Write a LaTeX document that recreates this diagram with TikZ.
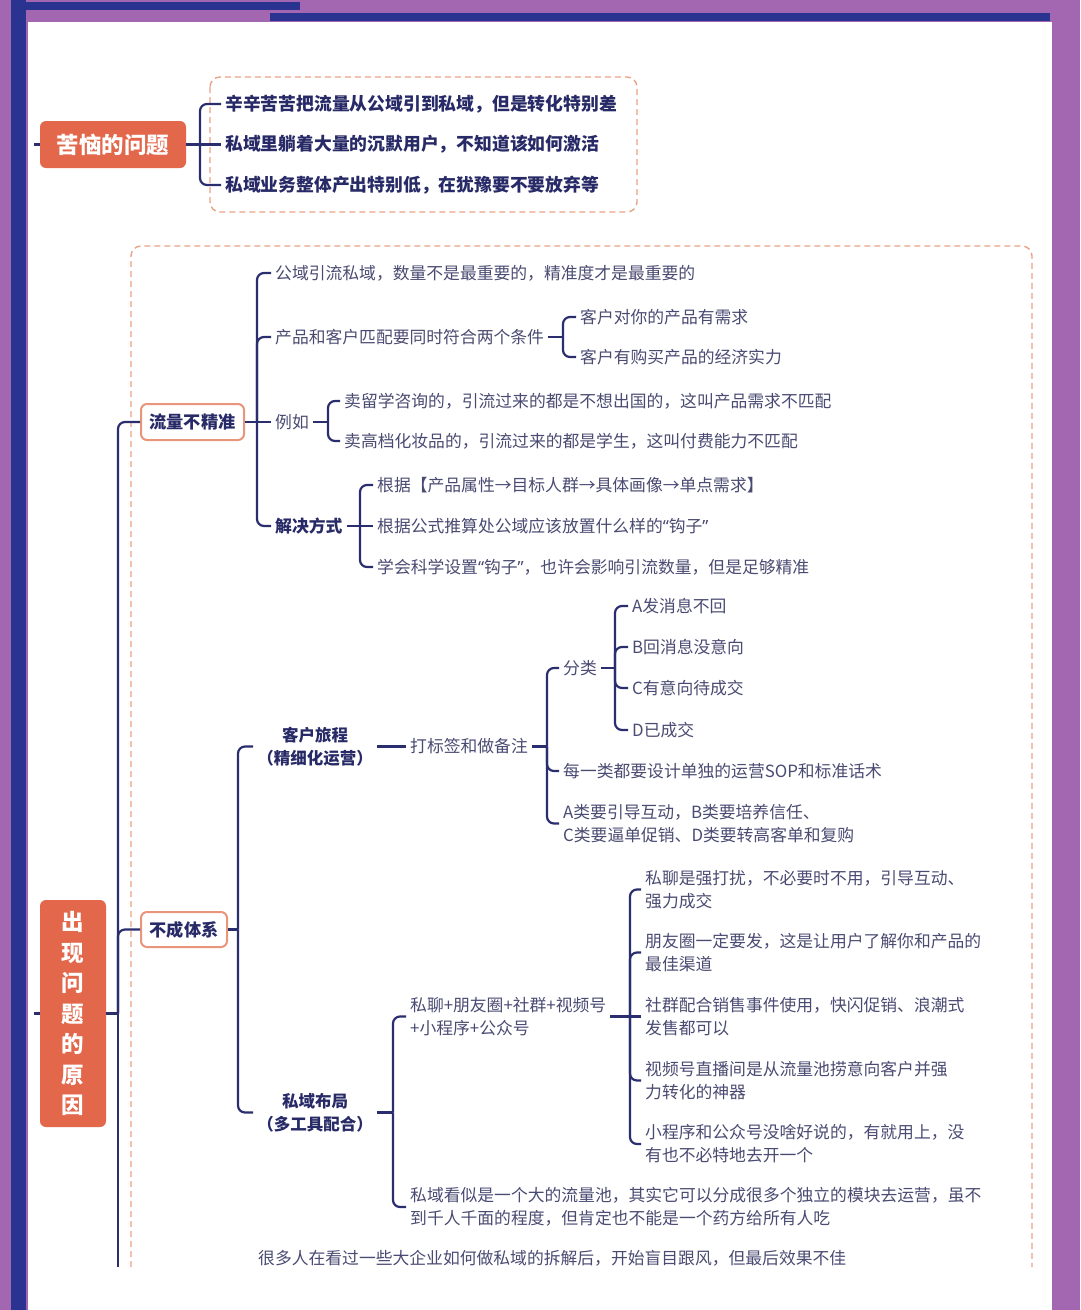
\documentclass[tikz,border=0pt]{standalone}
\usepackage{fontspec}
\setmainfont{Noto Sans CJK SC}
\newfontfamily\latq{Noto Sans}
\newcommand{\myLq}{{\latq“}}
\newcommand{\myRq}{{\latq”}}
\definecolor{purp}{HTML}{A366B0}
\definecolor{navyf}{HTML}{2A3490}
\definecolor{linec}{HTML}{2B2E6E}
\definecolor{txtc}{HTML}{4A4B72}
\definecolor{boldc}{HTML}{272A66}
\definecolor{orangec}{HTML}{E2674B}
\definecolor{dashc}{HTML}{E9A285}
\definecolor{boxbc}{HTML}{E8957A}
\tikzset{
  txt/.style={anchor=west, font=\fontsize{16.8}{23}\selectfont, text=txtc, inner xsep=4pt, inner ysep=1pt, align=left},
  btxt/.style={txt, font=\fontsize{16.8}{23}\selectfont\bfseries, text=boldc},
  ttxt/.style={txt, font=\fontsize{17.8}{23}\selectfont\bfseries, text=boldc},
  ctxt/.style={anchor=center, font=\fontsize{16.5}{23}\selectfont\bfseries, text=boldc, inner xsep=4pt, inner ysep=1pt, align=center},
  conn/.style={draw=linec, line width=2.2pt, rounded corners=7pt},
  dashbox/.style={draw=dashc, line width=1.4pt, dash pattern=on 6pt off 4pt, rounded corners=10pt},
  obox/.style={fill=orangec, rounded corners=6pt, text=white, font=\fontsize{22.5}{30.5}\selectfont\bfseries, align=center, inner sep=0pt},
  wbox/.style={draw=boxbc, line width=2pt, fill=white, rounded corners=6pt, text=boldc, font=\fontsize{17.2}{23}\selectfont\bfseries, inner sep=0pt, minimum height=36pt}
}
\begin{document}
\begin{tikzpicture}[x=1pt,y=-1pt]
\useasboundingbox (0,0) rectangle (1080,1310);
% frame
\fill[purp] (0,0) rectangle (1080,1310);
\fill[navyf] (11,0) rectangle (26,1310);
\fill[navyf] (11,2) rectangle (300,10);
\fill[navyf] (270,13) rectangle (1050,21);
\fill[white] (28,22) rectangle (1052,1310);

% dashed boxes
\draw[dashbox] (210,77) rectangle (637,212);
\draw[dashbox] (131,1267) -- (131,246) -- (1032,246) -- (1032,1267);

% ---------- top group
\node[obox, minimum width=146pt, minimum height=47pt] (q) at (113,144.5) {苦恼的问题};
\coordinate (qin) at (34,144.5);
\draw[conn] (qin) -- (q.west);
\node[ttxt] (q1) at (221,104) {辛辛苦苦把流量从公域引到私域，但是转化特别差};
\node[ttxt] (q2) at (221,144.5) {私域里躺着大量的沉默用户，不知道该如何激活};
\node[ttxt] (q3) at (221,185) {私域业务整体产出特别低，在犹豫要不要放弃等};
\draw[conn] (q.east) -- (200,144.5) coordinate (qb);
\draw[conn] (qb) |- (q1.west);
\draw[conn] (qb) -- (q2.west);
\draw[conn] (qb) |- (q3.west);

% ---------- main reason
\node[obox, minimum width=66pt, minimum height=227pt] (yy) at (73,1013.5) {出\\现\\问\\题\\的\\原\\因};
\coordinate (yyin) at (34,1013.5);
\draw[conn] (yyin) -- (yy.west);
\draw[conn] (yy.east) -- (118,1013.5) coordinate (tr);
\coordinate (trend) at (118,1267);
\draw[conn] (tr) -- (trend);

\node[wbox, minimum width=103pt] (lj) at (192.5,422) {流量不精准};
\node[wbox, minimum width=86pt, minimum height=35pt] (bc) at (184,929.5) {不成体系};
\draw[conn] (tr) |- (lj.west);
\draw[conn] (tr) |- (bc.west);

% ---------- 流量不精准
\node[txt] (a1) at (271,273) {公域引流私域，数量不是最重要的，精准度才是最重要的};
\node[txt] (a2) at (271,337) {产品和客户匹配要同时符合两个条件};
\node[txt] (a3) at (271,422) {例如};
\node[btxt] (a4) at (271,526) {解决方式};
\draw[conn] (lj.east) -- (257,422) coordinate (ljb);
\draw[conn] (ljb) |- (a1.west);
\draw[conn] (ljb) |- (a2.west);
\draw[conn] (ljb) -- (a3.west);
\draw[conn] (ljb) |- (a4.west);

\node[txt] (a21) at (576,317) {客户对你的产品有需求};
\node[txt] (a22) at (576,357) {客户有购买产品的经济实力};
\draw[conn] (a2.east) -- (563,337) coordinate (a2b);
\draw[conn] (a2b) |- (a21.west);
\draw[conn] (a2b) |- (a22.west);

\node[txt] (a31) at (340,401) {卖留学咨询的，引流过来的都是不想出国的，这叫产品需求不匹配};
\node[txt] (a32) at (340,441) {卖高档化妆品的，引流过来的都是学生，这叫付费能力不匹配};
\draw[conn] (a3.east) -- (328,422) coordinate (a3b);
\draw[conn] (a3b) |- (a31.west);
\draw[conn] (a3b) |- (a32.west);

\node[txt] (a41) at (373,485) {根据【产品属性→目标人群→具体画像→单点需求】};
\node[txt] (a42) at (373,526) {根据公式推算处公域应该放置什么样的\myLq 钩子\myRq};
\node[txt] (a43) at (373,567) {学会科学设置\myLq 钩子\myRq ，也许会影响引流数量，但是足够精准};
\draw[conn] (a4.east) -- (360,526) coordinate (a4b);
\draw[conn] (a4b) |- (a41.west);
\draw[conn] (a4b) -- (a42.west);
\draw[conn] (a4b) |- (a43.west);

% ---------- 不成体系
\draw[conn] (bc.east) -- (238,929.5) coordinate (bcb);
\node[ctxt] (kh) at (315,746.5) {客户旅程\\（精细化运营）};
\node[ctxt] (sy) at (315,1112.5) {私域布局\\（多工具配合）};
\draw[conn] (bcb) |- (kh.west);
\draw[conn] (bcb) |- (sy.west);

\node[txt] (dbq) at (406,746.5) {打标签和做备注};
\draw[conn] (kh.east) -- (dbq.west);
\node[txt] (fl) at (559,668) {分类};
\node[txt] (mei) at (559,771) {每一类都要设计单独的运营SOP和标准话术};
\node[txt] (abcd) at (559,823.5) {A类要引导互动，B类要培养信任、\\C类要逼单促销、D类要转高客单和复购};
\draw[conn] (dbq.east) -- (547,746.5) coordinate (dbqb);
\draw[conn] (dbqb) |- (fl.west);
\draw[conn] (dbqb) |- (mei.west);
\draw[conn] (dbqb) |- (abcd.west);

\node[txt] (ca) at (628,606) {A发消息不回};
\node[txt] (cb) at (628,647) {B回消息没意向};
\node[txt] (cc) at (628,688) {C有意向待成交};
\node[txt] (cd) at (628,730) {D已成交};
\draw[conn] (fl.east) -- (615,668) coordinate (flb);
\draw[conn] (flb) |- (ca.west);
\draw[conn] (flb) |- (cb.west);
\draw[conn] (flb) |- (cc.west);
\draw[conn] (flb) |- (cd.west);

\node[txt] (pl) at (406,1016.5) {私聊+朋友圈+社群+视频号\\+小程序+公众号};
\node[txt] (pd) at (406,1207) {私域看似是一个大的流量池，其实它可以分成很多个独立的模块去运营，虽不\\到千人千面的程度，但肯定也不能是一个药方给所有人吃};
\draw[conn] (sy.east) -- (393,1112.5) coordinate (syb);
\draw[conn] (syb) |- (pl.west);
\draw[conn] (syb) |- (pd.west);

\node[txt] (p1) at (641,889.5) {私聊是强打扰，不必要时不用，引导互动、\\强力成交};
\node[txt] (p2) at (641,952.5) {朋友圈一定要发，这是让用户了解你和产品的\\最佳渠道};
\node[txt] (p3) at (641,1016.5) {社群配合销售事件使用，快闪促销、浪潮式\\发售都可以};
\node[txt] (p4) at (641,1080.5) {视频号直播间是从流量池捞意向客户并强\\力转化的神器};
\node[txt] (p5) at (641,1144) {小程序和公众号没啥好说的，有就用上，没\\有也不必特地去开一个};
\draw[conn] (pl.east) -- (630,1016.5) coordinate (plb);
\draw[conn] (plb) |- (p1.west);
\draw[conn] (plb) |- (p2.west);
\draw[conn] (plb) -- (p3.west);
\draw[conn] (plb) |- (p4.west);
\draw[conn] (plb) |- (p5.west);

\node[txt] (hd) at (254,1258) {很多人在看过一些大企业如何做私域的拆解后，开始盲目跟风，但最后效果不佳};
\end{tikzpicture}
\end{document}
